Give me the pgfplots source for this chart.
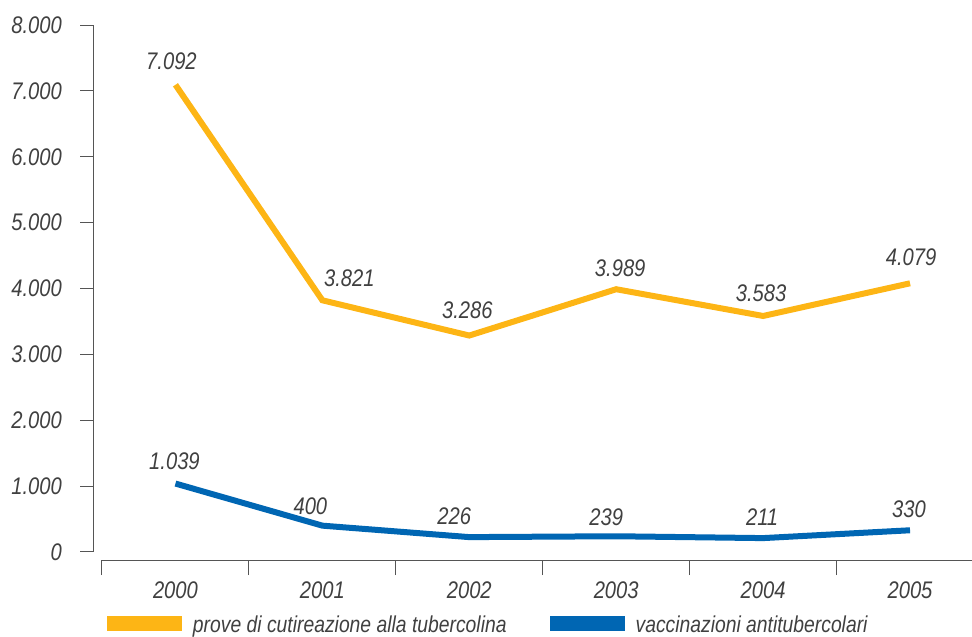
\documentclass[border=0pt]{standalone}
\usepackage{pgfplots}
\usepackage{pgfplotstable}
\pgfplotsset{compat=1.18}
\usepackage{fontspec}
\setmainfont{Liberation Sans}[FakeStretch=0.84]
\definecolor{orangeL}{HTML}{FDB515}
\definecolor{blueL}{HTML}{0066B3}
\definecolor{txt}{HTML}{404040}
\definecolor{axc}{HTML}{555555}
\newcommand{\chartfont}{\fontsize{24}{28}\selectfont\itshape}
\newcommand{\legfont}{\fontsize{23}{27}\selectfont\itshape}

\pgfplotstableread{
x y lab dx dy
0 7092 7.092 -4 12
1 3821 3.821 27 11
2 3286 3.286 -2 14
3 3989 3.989 4 9
4 3583 3.583 -2 11
5 4079 4.079 1 15
}\tabA
\pgfplotstableread{
x y lab dx dy
0 1039 1.039 -1 11
1 400 400 -12 8
2 226 226 -15 9
3 239 239 -10 8
4 211 211 -1 10
5 330 330 -1 10
}\tabB

\begin{document}
\begin{tikzpicture}
\useasboundingbox (-94pt,-77pt) rectangle (878pt,560pt);
\begin{axis}[
 at={(0pt,8pt)}, anchor=south west,
 scale only axis, width=878pt, height=527pt,
 xmin=0, xmax=1, ymin=0, ymax=8000,
 axis x line=none, axis y line*=left,
 axis line style={axc, line width=1pt},
 ytick={0,1000,...,8000},
 scaled y ticks=false,
 tick align=outside, major tick length=14pt,
 tick style={axc, line width=1pt},
 yticklabel style={font=\chartfont, text=txt, anchor=east, inner sep=0pt, xshift=-18pt},
 /pgf/number format/1000 sep={.},
 /pgf/number format/assume math mode=true,
]
\end{axis}
\begin{axis}[
 at={(8pt,0pt)}, anchor=south west,
 scale only axis, width=870pt, height=535pt,
 xmin=-0.5, xmax=5.4218, ymin=-121.4, ymax=8000,
 axis y line=none, axis x line*=bottom,
 axis line style={axc, line width=1pt},
 clip=false,
 xtick={0,1,2,3,4,5}, xticklabels={2000,2001,2002,2003,2004,2005},
 minor xtick={-0.5,0.5,1.5,2.5,3.5,4.5},
 tick align=outside, major tick length=0pt, minor tick length=15pt,
 tick style={axc, line width=1pt},
 xticklabel style={font=\chartfont, text=txt, anchor=base, inner sep=0pt, yshift=-38pt},
 legend columns=2,
 legend cell align=left,
 legend style={draw=none, fill=none, inner sep=0pt, outer sep=0pt,
   at={(rel axis cs:0,0)}, anchor=north west, xshift=5pt, yshift=-56pt,
   font=\legfont, text=txt, nodes={inner sep=0pt},
   /tikz/every odd column/.append style={column sep=11pt},
   /tikz/every even column/.append style={column sep=43pt}},
 legend image code/.code={\fill[#1, draw=none] (0pt,-6pt) rectangle (75pt,9pt);},
]
\addplot[orangeL, line width=6pt, nodes near coords, point meta=explicit symbolic,
  visualization depends on={\thisrow{dx}\as\labdx},
  visualization depends on={\thisrow{dy}\as\labdy},
  nodes near coords style={font=\chartfont, text=txt, anchor=south, inner sep=0pt, xshift=\labdx pt, yshift=\labdy pt}]
  table[x=x, y=y, meta=lab] {\tabA};
\addlegendentry{prove di cutireazione alla tubercolina}
\addplot[blueL, line width=6pt, nodes near coords, point meta=explicit symbolic,
  visualization depends on={\thisrow{dx}\as\labdx},
  visualization depends on={\thisrow{dy}\as\labdy},
  nodes near coords style={font=\chartfont, text=txt, anchor=south, inner sep=0pt, xshift=\labdx pt, yshift=\labdy pt}]
  table[x=x, y=y, meta=lab] {\tabB};
\addlegendentry{vaccinazioni antitubercolari}
\end{axis}
\end{tikzpicture}
\end{document}
